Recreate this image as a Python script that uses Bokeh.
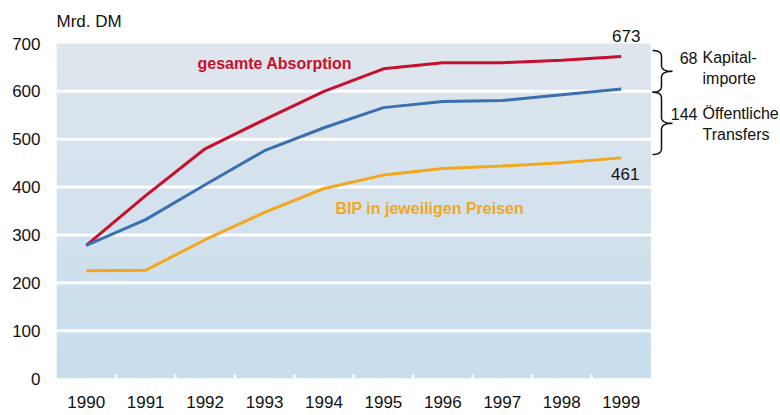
import numpy as np
from bokeh.plotting import figure
from bokeh.models import Range1d, FixedTicker
from bokeh.core.properties import value
from bokeh.embed import file_html
from bokeh.resources import INLINE

# ---- data ----
years = [1990, 1991, 1992, 1993, 1994, 1995, 1996, 1997, 1998, 1999]
absorption = [278, 382, 480, 541, 600, 647, 660, 660, 665, 673]
bip_transfers = [278, 332, 405, 476, 524, 566, 579, 581, 593, 605]
bip = [225, 226, 290, 347, 397, 425, 439, 444, 451, 461]
y_ticks = [0, 100, 200, 300, 400, 500, 600, 700]
year_labels = [str(y) for y in years]
unit_label = "Mrd. DM"
absorption_label = "gesamte Absorption"
bip_label = "BIP in jeweiligen Preisen"
brace_texts_num = ["68", "144"]
brace_texts_word1 = ["Kapital-", "Öffentliche"]
brace_texts_word2 = ["importe", "Transfers"]

RED = "#C8102E"
BLUE = "#3A70B2"
ORANGE = "#F2A71E"
FONT = "Liberation Sans"

W, H = 780, 415
LEFT, BOTTOM = 56, 37
x0 = years[0] - 0.5
x1p = years[-1] + 0.5
px_per_year = 59.44
frame_w = W - LEFT
frame_h = H - BOTTOM
ymax = y_ticks[-1]
px_per_unit = 335 / ymax
x_end = x0 + frame_w / px_per_year
y_end = frame_h / px_per_unit

# page coords -> data coords helpers
def px_x(page_x):
    return x0 + (page_x - LEFT) / px_per_year

def px_y(page_y):
    return (frame_h - page_y) / px_per_unit

p = figure(width=W, height=H, x_range=Range1d(x0, x_end), y_range=Range1d(0, y_end),
           output_backend="svg", toolbar_location=None,
           min_border_left=LEFT, min_border_right=0, min_border_top=0, min_border_bottom=BOTTOM)
p.outline_line_color = None
p.xgrid.visible = False
p.ygrid.visible = False
p.background_fill_color = "white"
p.border_fill_color = "white"

# gradient panel
N = 335
top = np.array([223, 230, 237], dtype=float)
bot = np.array([200, 222, 238], dtype=float)
t = np.linspace(0, 1, N)[:, None]
cols = (bot * (1 - t) + top * t).astype(np.uint8)
img = np.empty((N, 1), dtype=np.uint32)
view = img.view(dtype=np.uint8).reshape((N, 1, 4))
view[:, 0, 0] = cols[:, 0]
view[:, 0, 1] = cols[:, 1]
view[:, 0, 2] = cols[:, 2]
view[:, 0, 3] = 255
p.image_rgba(image=[img], x=x0, y=0, dw=x1p - x0, dh=ymax)

# white gridlines
grid_vals = y_ticks[1:-1]
p.segment(x0=[x0] * len(grid_vals), x1=[x1p] * len(grid_vals), y0=grid_vals, y1=grid_vals,
          line_color="white", line_width=3)

# small white ticks at bottom between years
mids = [y + 0.5 for y in years[:-1]]
p.segment(x0=mids, x1=mids, y0=[0] * len(mids), y1=[4 / px_per_unit] * len(mids),
          line_color="white", line_width=2.5)

# lines
p.line(years, absorption, line_color=RED, line_width=3)
p.line(years, bip_transfers, line_color=BLUE, line_width=3)
p.line(years, bip, line_color=ORANGE, line_width=3)

# axes
p.yaxis.ticker = FixedTicker(ticks=y_ticks)
p.xaxis.ticker = FixedTicker(ticks=years)
p.xaxis.major_label_overrides = {y: s for y, s in zip(years, year_labels)}
for ax in (p.xaxis, p.yaxis):
    ax.axis_line_color = None
    ax.major_tick_line_color = None
    ax.minor_tick_line_color = None
    ax.major_tick_in = 0
    ax.major_tick_out = 0
    ax.minor_tick_in = 0
    ax.minor_tick_out = 0
    ax.major_label_text_font = FONT
    ax.major_label_text_font_size = "17px"
    ax.major_label_text_color = "#111111"
p.yaxis.major_label_standoff = 16
p.xaxis.major_label_standoff = 17

# texts
p.text(x=[x0], y=[px_y(21)], text=[unit_label], text_font=value(FONT), text_font_size="17px",
       text_color="#111111", text_baseline="middle", text_align="left")
p.text(x=[px_x(197)], y=[px_y(63)], text=[absorption_label], text_font=value(FONT),
       text_font_size="16px", text_font_style="bold", text_color=RED, text_baseline="middle")
p.text(x=[px_x(335)], y=[px_y(208)], text=[bip_label], text_font=value(FONT),
       text_font_size="16px", text_font_style="bold", text_color=ORANGE, text_baseline="middle")
p.text(x=[years[-1]], y=[absorption[-1]], text=[str(absorption[-1])], text_font=value(FONT),
       text_font_size="17px", text_color="#111111", text_baseline="middle", text_align="center",
       x_offset=5, y_offset=-20)
p.text(x=[years[-1]], y=[bip[-1]], text=[str(bip[-1])], text_font=value(FONT),
       text_font_size="17px", text_color="#111111", text_baseline="middle", text_align="center",
       x_offset=4, y_offset=16)

# braces
def quad(pa, pc, pb, n=12):
    s = np.linspace(0, 1, n)
    xs = (1 - s) ** 2 * pa[0] + 2 * (1 - s) * s * pc[0] + s ** 2 * pb[0]
    ys = (1 - s) ** 2 * pa[1] + 2 * (1 - s) * s * pc[1] + s ** 2 * pb[1]
    return list(xs), list(ys)

def brace(top_y, bot_y, xl=652, xm=661, xr=672, r=6):
    mid = (top_y + bot_y) / 2
    X, Y = [], []
    for seg in [quad((xl, top_y), (xm, top_y), (xm, top_y + r)),
                quad((xm, mid - r), (xm, mid), (xr, mid)),
                quad((xr, mid), (xm, mid), (xm, mid + r)),
                quad((xm, bot_y - r), (xm, bot_y), (xl, bot_y))]:
        X += seg[0]
        Y += seg[1]
    return [px_x(v) for v in X], [px_y(v) for v in Y]

for (tp, bt) in [(50, 91.7), (91.7, 154)]:
    bx, by = brace(tp, bt)
    p.line(bx, by, line_color="#111111", line_width=1.5)

num_y = [57, 113]
word2_y = [77.5, 133.5]
for i in range(2):
    p.text(x=[px_x(697)], y=[px_y(num_y[i])], text=[brace_texts_num[i]], text_font=value(FONT),
           text_font_size="16px", text_color="#111111", text_baseline="middle", text_align="right")
    p.text(x=[px_x(702)], y=[px_y(num_y[i])], text=[brace_texts_word1[i]], text_font=value(FONT),
           text_font_size="16px", text_color="#111111", text_baseline="middle", text_align="left")
    p.text(x=[px_x(702)], y=[px_y(word2_y[i])], text=[brace_texts_word2[i]], text_font=value(FONT),
           text_font_size="16px", text_color="#111111", text_baseline="middle", text_align="left")

open("out.html", "w").write(file_html(p, INLINE))
